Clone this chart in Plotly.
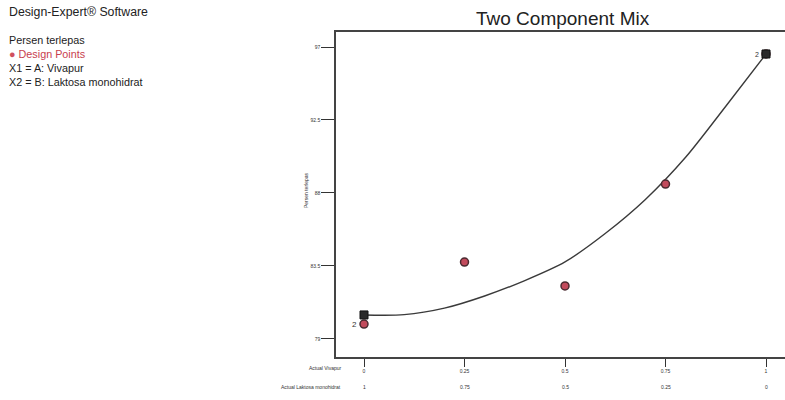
import plotly.graph_objects as go

# ---- data ----
vivapur = [0, 0.25, 0.5, 0.75, 1]
laktosa_labels = ["1", "0.75", "0.5", "0.25", "0"]
vivapur_labels = ["0", "0.25", "0.5", "0.75", "1"]
persen_terlepas = [79.92, 83.74, 82.27, 88.55, 96.57]

# dark squares (replicate markers) at the mixture ends
square_x = [0, 1]
square_y = [80.48, 96.57]
replicate_label = ["2", "2"]

# fitted model curve, read at points along the picture
curve_x = [0, 0.1, 0.2, 0.3, 0.4, 0.5, 0.6, 0.7, 0.8, 0.9, 1.0]
curve_y = [80.48, 80.5, 80.9, 81.65, 82.6, 83.75, 85.5, 87.6, 90.2, 93.35, 96.57]

y_ticks = [79, 83.5, 88, 92.5, 97]
y_ticktext = ["79", "83.5", "88", "92.5", "97"]

# ---- layout geometry (pixels) ----
W, H = 785, 400
L, R, T, B = 336, 0, 32, 43
PW = W - L - R
PH = H - T - B


def px(x):
    return (x - L) / PW


def py(y):
    return (H - B - y) / PH


FONT = "Liberation Sans"

fig = go.Figure()

fig.add_trace(go.Scatter(
    x=curve_x, y=curve_y, mode="lines",
    line=dict(color="#3a3a3a", width=1.4, shape="spline", smoothing=0.8),
    hoverinfo="skip", showlegend=False))

fig.add_trace(go.Scatter(
    x=vivapur, y=persen_terlepas, mode="markers",
    marker=dict(symbol="circle", size=8, color="#c24a5c", line=dict(color="#4a2a30", width=1.5)),
    showlegend=False))

fig.add_trace(go.Scatter(
    x=square_x, y=square_y, mode="markers",
    marker=dict(symbol="square", size=8, color="#2a2a2a", line=dict(color="#111", width=1)),
    showlegend=False))

annotations = []
# replicate count labels
annotations.append(dict(x=vivapur[0], y=persen_terlepas[0], xref="x", yref="y", text=replicate_label[0],
                        xshift=-10, showarrow=False, font=dict(size=8, color="#333", family=FONT)))
annotations.append(dict(x=square_x[1], y=square_y[1], xref="x", yref="y", text=replicate_label[1],
                        xshift=-9, yshift=-1, showarrow=False, font=dict(size=7, color="#333", family=FONT)))

# second row of x tick labels (Laktosa)
for xv, lab in zip(vivapur, laktosa_labels):
    annotations.append(dict(x=xv, y=py(392), xref="x", yref="paper", text=lab, showarrow=False,
                            font=dict(size=5, color="#333", family=FONT)))
annotations.append(dict(x=px(343), y=py(373), xref="paper", yref="paper", text="Actual Vivapur",
                        xanchor="right", showarrow=False, font=dict(size=5, color="#333", family=FONT)))
annotations.append(dict(x=px(343), y=py(392), xref="paper", yref="paper", text="Actual Laktosa monohidrat",
                        xanchor="right", showarrow=False, font=dict(size=5, color="#333", family=FONT)))

# y title
annotations.append(dict(x=px(301), y=py(190), xref="paper", yref="paper", text="Persen terlepas",
                        textangle=-90, showarrow=False, font=dict(size=5, color="#333", family=FONT)))

# left info block
annotations.append(dict(x=px(7), y=py(12), xref="paper", yref="paper", text="Design-Expert® Software",
                        xanchor="left", yanchor="middle", showarrow=False,
                        font=dict(size=12.3, color="#222", family=FONT)))
info_lines = [
    "Persen terlepas",
    "<span style='color:#d0505e'>●</span> <span style='color:#c8404e'>Design Points</span>",
    "X1 = A: Vivapur",
    "X2 = B: Laktosa monohidrat",
]
annotations.append(dict(x=px(7), y=py(32), xref="paper", yref="paper", text="<br>".join(info_lines),
                        xanchor="left", yanchor="top", align="left", showarrow=False,
                        font=dict(size=10.8, color="#222", family=FONT)))

# title
annotations.append(dict(x=px(563), y=py(18), xref="paper", yref="paper", text="Two Component Mix",
                        xanchor="center", yanchor="middle", showarrow=False,
                        font=dict(size=19, color="#222", family=FONT)))

fig.update_layout(
    width=W, height=H,
    margin=dict(l=L, r=R, t=T, b=B),
    paper_bgcolor="white", plot_bgcolor="white",
    annotations=annotations,
    xaxis=dict(range=[-28 / 402, 1 + (785 - 766) / 402], tickvals=vivapur, ticktext=vivapur_labels,
               ticks="outside", ticklen=8, tickcolor="#333", tickwidth=1,
               showline=True, linecolor="#444", linewidth=1.5, mirror=True,
               showgrid=False, zeroline=False,
               tickfont=dict(size=5, color="#333", family=FONT)),
    yaxis=dict(range=[97 - (357 - 47) / 16.22, 97 + (47 - 32) / 16.22],
               tickvals=y_ticks, ticktext=y_ticktext,
               ticks="outside", ticklen=13, tickcolor="#333", tickwidth=1,
               showline=True, linecolor="#444", linewidth=1.5,
               showgrid=False, zeroline=False,
               tickfont=dict(size=5, color="#333", family=FONT)),
)

fig.write_html("out.html", config={"displayModeBar": False},
               post_script="document.body.style.margin='0px';")
